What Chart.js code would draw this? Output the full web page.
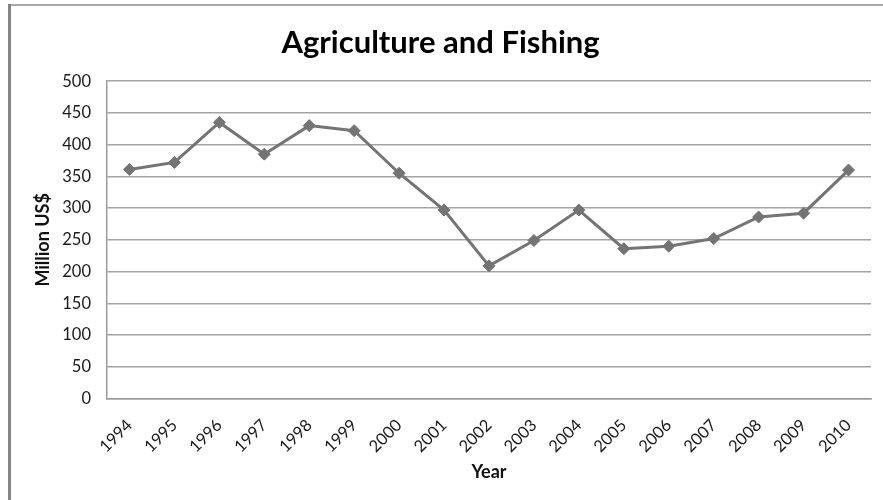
<!DOCTYPE html>
<html>
<head>
<meta charset="utf-8">
<script src="https://cdn.jsdelivr.net/npm/chart.js@4/dist/chart.umd.min.js"></script>
<style>
  html, body { margin: 0; padding: 0; background: #fff; }
  #wrap { width: 883px; height: 500px; position: relative; }
</style>
</head>
<body>
<div id="wrap"><canvas id="c" width="883" height="500"></canvas></div>
<script>
const chartTitle = "Agriculture and Fishing";
const years = ["1994","1995","1996","1997","1998","1999","2000","2001","2002","2003","2004","2005","2006","2007","2008","2009","2010"];
const values = [361, 372, 435, 385, 430, 422, 355, 297, 209, 249, 297, 236, 240, 252, 286, 292, 360];
const yTitle = "Million US$";
const xTitle = "Year";

const framePlugin = {
  id: 'frame',
  beforeDraw(chart) {
    const ctx = chart.ctx;
    ctx.save();
    ctx.fillStyle = '#ffffff';
    ctx.fillRect(0, 0, chart.width, chart.height);
    ctx.fillStyle = '#a8a8a8';
    ctx.fillRect(8, 4, chart.width - 8, 2);
    ctx.fillStyle = '#858585';
    ctx.fillRect(8, 4, 3, chart.height - 4);
    ctx.restore();
  }
};

new Chart(document.getElementById('c'), {
  type: 'line',
  data: {
    labels: years,
    datasets: [{
      data: values,
      borderColor: '#747474',
      backgroundColor: '#747474',
      borderWidth: 3,
      pointStyle: 'rectRot',
      pointRadius: 6,
      pointBorderWidth: 1,
      pointBackgroundColor: '#747474',
      pointBorderColor: '#747474',
      tension: 0,
      fill: false
    }]
  },
  options: {
    responsive: false,
    animation: false,
    devicePixelRatio: 1,
    layout: { padding: { left: 10, right: 12, top: 0, bottom: 6 } },
    plugins: {
      legend: { display: false },
      tooltip: { enabled: false },
      title: {
        display: true,
        text: chartTitle,
        color: '#000',
        font: { family: 'Lato', size: 31, weight: 'bold', lineHeight: 1.2 },
        padding: { top: 24, bottom: 20 }
      }
    },
    scales: {
      x: {
        offset: true,
        afterFit(scale) { scale.height = 95.5; },
        grid: { display: false, drawTicks: false },
        border: { display: true, color: '#9a9a9a', width: 1.5 },
        ticks: {
          color: '#1a1a1a',
          font: { family: 'Lato', size: 16.5 },
          minRotation: 45,
          maxRotation: 45,
          padding: 17,
          autoSkip: false
        },
        title: {
          display: true,
          text: xTitle,
          color: '#111',
          font: { family: 'Lato', size: 18, weight: 'bold', lineHeight: 1.2 },
          padding: { top: 11.5, bottom: 11.5 }
        }
      },
      y: {
        min: 0,
        max: 500,
        afterFit(scale) { scale.width = 97; },
        grid: { color: '#a3a3a3', lineWidth: 1.5, drawTicks: false },
        border: { display: true, color: '#9a9a9a', width: 1.5 },
        ticks: {
          stepSize: 50,
          color: '#1a1a1a',
          font: { family: 'Lato', size: 16.5 },
          padding: 16
        },
        title: {
          display: true,
          text: yTitle,
          color: '#111',
          font: { family: 'Lato', size: 18, weight: 'bold', lineHeight: 1.2 },
          padding: { top: 22, bottom: 0 }
        }
      }
    }
  },
  plugins: [framePlugin]
});
</script>
</body>
</html>
